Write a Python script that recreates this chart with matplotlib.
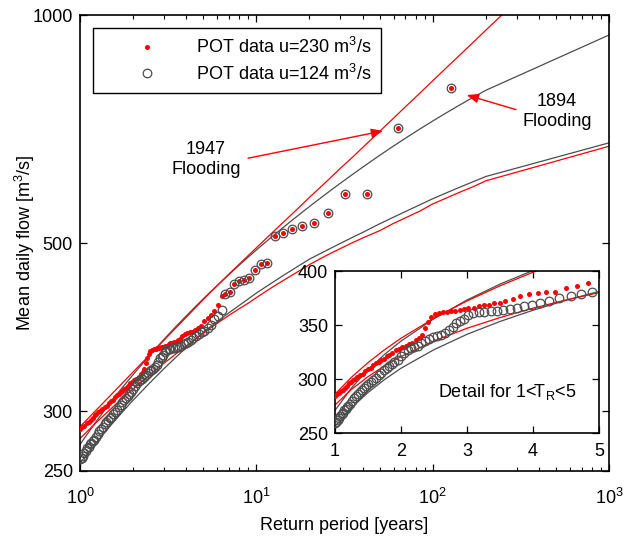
import matplotlib
matplotlib.use('Agg')
import matplotlib.pyplot as plt
from matplotlib.lines import Line2D
from matplotlib.ticker import FixedLocator, NullLocator, FixedFormatter

plt.rcParams['font.family'] = ['Liberation Sans', 'DejaVu Sans']
plt.rcParams['mathtext.fontset'] = 'custom'
plt.rcParams['mathtext.rm'] = 'Liberation Sans'
plt.rcParams['mathtext.it'] = 'Liberation Sans:italic'
plt.rcParams['mathtext.bf'] = 'Liberation Sans:bold'

# POT data u=230 m3/s : return period [years], flow [m3/s]
red_T = [1.00, 1.03, 1.06, 1.09, 1.12, 1.15, 1.18, 1.21, 1.24, 1.27, 1.30, 1.34, 1.38, 1.42,
         1.46, 1.50, 1.54, 1.58, 1.62, 1.66, 1.70, 1.74, 1.78, 1.82, 1.87, 1.92, 1.97, 2.02,
         2.07, 2.12, 2.17, 2.22, 2.27, 2.32, 2.36, 2.41, 2.46, 2.51, 2.57, 2.63, 2.69, 2.75,
         2.82, 2.89, 2.95, 3.02, 3.10, 3.18, 3.25, 3.33, 3.41, 3.50, 3.58, 3.70, 3.81, 3.94,
         4.07, 4.20, 4.34, 4.50, 4.66, 4.84, 5.08, 5.29, 5.52, 5.77, 6.05, 6.35, 6.68, 7.06,
         7.47, 7.94, 8.47, 9.07, 9.77, 10.6, 11.5, 12.7, 14.1, 15.9, 18.1, 21.2, 25.4, 31.8,
         42.3, 63.5, 127.0]
red_Q = [284, 286, 287, 289, 290, 292, 294, 296, 297, 299, 300, 302, 304, 305,
         307, 309, 310, 313, 315, 316, 318, 319, 321, 322, 324, 327, 328, 330,
         331, 332, 333, 336, 338, 341, 347, 353, 357, 360, 361, 362, 362, 363,
         363, 364, 365, 366, 366, 368, 369, 369, 370, 370, 372, 374, 377, 379,
         380, 381, 381, 384, 386, 389, 394, 398, 402, 407, 414, 425, 428, 431,
         442, 445, 447, 450, 461, 469, 470, 511, 515, 522, 526, 532, 547, 581,
         581, 710, 800]

# POT data u=124 m3/s
gray_T = [1.00, 1.02, 1.04, 1.06, 1.08, 1.10, 1.12, 1.14, 1.16, 1.18, 1.20, 1.23, 1.26, 1.29,
          1.32, 1.35, 1.38, 1.41, 1.44, 1.47, 1.50, 1.54, 1.58, 1.62, 1.66, 1.70, 1.74, 1.78,
          1.82, 1.86, 1.90, 1.95, 2.00, 2.05, 2.10, 2.15, 2.20, 2.25, 2.30, 2.36, 2.42, 2.48,
          2.54, 2.60, 2.66, 2.72, 2.78, 2.84, 2.90, 2.96, 3.02, 3.09, 3.18, 3.26, 3.36, 3.45,
          3.55, 3.65, 3.75, 3.87, 3.99, 4.10, 4.24, 4.39, 4.57, 4.73, 4.90, 5.08, 5.29, 5.52,
          5.77, 6.05, 6.35, 6.68, 7.06, 7.47, 7.94, 8.47, 9.07, 9.77, 10.6, 11.5, 12.7, 14.1,
          15.9, 18.1, 21.2, 25.4, 31.8, 42.3, 63.5, 127.0]
gray_Q = [259, 260, 262, 264, 266, 268, 269, 271, 272, 274, 275, 277, 280, 282,
          284, 286, 288, 290, 292, 294, 295, 297, 299, 301, 304, 306, 308, 310,
          312, 314, 316, 318, 321, 324, 327, 329, 330, 331, 333, 335, 337, 339,
          340, 341, 343, 345, 348, 352, 354, 356, 359, 361, 362, 362, 363, 363,
          364, 365, 366, 368, 369, 370, 372, 375, 377, 379, 381, 383, 386, 390,
          397, 401, 408, 428, 431, 442, 445, 447, 450, 461, 469, 470, 511, 515,
          522, 526, 532, 547, 581, 581, 710, 800]

# fitted bounds
curve_T = [1, 1.25, 1.5, 1.75, 2, 2.5, 3, 3.5, 4, 4.5, 5, 5.5, 6, 7, 8, 9, 10, 12, 14, 17,
           20, 25, 30, 35, 40, 50, 60, 70, 85, 100, 120, 140, 170, 200, 1000]
up_red = [286.0, 301.7, 315.2, 327.1, 337.8, 356.3, 372.3, 386.3, 398.9, 410.4, 421.0,
          430.6, 439.3, 455.0, 468.8, 481.3, 492.7, 513.1, 530.7, 553.8, 574.4, 602.7,
          627.8, 648.5, 668.1, 701.9, 730.8, 756.4, 789.5, 818.7, 852.5, 882.0, 920.7,
          954.7, 1364.6]
up_gray = [271.0, 291.7, 308.7, 322.8, 335.1, 355.9, 373.2, 387.9, 400.5, 411.8, 421.9,
           431.0, 439.4, 454.4, 467.5, 479.1, 489.5, 507.5, 522.8, 542.2, 558.6, 581.2,
           599.8, 615.6, 629.4, 652.6, 671.5, 687.5, 707.6, 724.4, 743.2, 759.0, 778.9,
           795.4, 941.0]
low_red = [276.0, 290.4, 302.2, 312.2, 320.8, 335.2, 347.0, 356.9, 365.6, 373.2, 380.0,
           386.2, 391.7, 401.4, 409.5, 416.4, 423.5, 435.4, 445.2, 457.5, 468.2, 481.5,
           491.7, 500.3, 507.6, 519.0, 530.7, 539.7, 551.3, 563.0, 573.5, 582.5, 593.5,
           604.0, 671.0]
low_gray = [256.0, 273.3, 287.5, 299.5, 310.0, 327.2, 341.4, 353.3, 363.7, 372.9, 381.1,
            387.7, 394.0, 404.5, 413.6, 421.8, 429.4, 441.5, 452.0, 465.0, 476.0, 488.9,
            499.5, 508.5, 516.2, 530.0, 540.9, 550.1, 561.9, 572.0, 582.5, 591.5, 602.5,
            612.0, 678.0]

RED = '#ff0000'
GRAY = '#4d4d4d'
FS = 13


def draw(ax):
    for c in [up_gray, low_gray]:
        ax.plot(curve_T, c, color=GRAY, lw=0.9, zorder=2)
    for c in [up_red, low_red]:
        ax.plot(curve_T, c, color=RED, lw=0.9, zorder=2)
    ax.plot(red_T, red_Q, 'o', color=RED, ms=3.6, mec='none', zorder=3)
    ax.plot(gray_T, gray_Q, 'o', mfc='none', mec=GRAY, mew=0.9, ms=6.2, zorder=4)
    for s in ax.spines.values():
        s.set_linewidth(1.2)


fig = plt.figure(figsize=(6.24, 5.44), dpi=100)
ax = fig.add_axes([0.1282, 0.1342, 0.8478, 0.8382])
draw(ax)
ax.set_xscale('log')
ax.set_yscale('log')
ax.set_xlim(1, 1000)
ax.set_ylim(250, 1000)
ax.yaxis.set_major_locator(FixedLocator([250, 300, 500, 1000]))
ax.yaxis.set_major_formatter(FixedFormatter(['250', '300', '500', '1000']))
ax.yaxis.set_minor_locator(NullLocator())
ax.tick_params(which='both', direction='in', top=True, right=True, labelsize=FS)
ax.tick_params(which='major', length=5, width=0.9)
ax.tick_params(which='minor', length=3, width=0.8)
ax.tick_params(axis='x', pad=12)
ax.tick_params(axis='y', pad=5)
ax.set_xlabel('Return period [years]', fontsize=FS, labelpad=7)
ax.set_ylabel('Mean daily flow [m$^3$/s]', fontsize=FS, labelpad=-3)

h_red = Line2D([], [], ls='none', marker='o', color=RED, ms=3.6, mec='none')
h_gray = Line2D([], [], ls='none', marker='o', mfc='none', mec=GRAY, mew=0.9, ms=6.2)
leg = ax.legend([h_red, h_gray], ['POT data u=230 m$^3$/s', 'POT data u=124 m$^3$/s'],
                loc='upper left', bbox_to_anchor=(0.0246, 0.9715), fontsize=FS,
                frameon=True, fancybox=False, framealpha=1, edgecolor='black',
                borderpad=0.5, handlelength=5.0, handletextpad=0.2, labelspacing=0.35,
                borderaxespad=0, numpoints=1)
leg.get_frame().set_linewidth(1.0)

arrow = dict(arrowstyle='-|>,head_length=0.7,head_width=0.28', color=RED, lw=1.0,
             mutation_scale=10, shrinkA=0, shrinkB=0)
ax.text(5.18, 645, '1947\nFlooding', ha='center', va='center', fontsize=FS, linespacing=1.25)
ax.annotate('', xy=(52.3, 703), xytext=(8.97, 647), arrowprops=arrow)
ax.text(507, 745, '1894\nFlooding', ha='center', va='center', fontsize=FS, linespacing=1.25)
ax.annotate('', xy=(156, 784), xytext=(297, 750), arrowprops=arrow)

# inset
axin = fig.add_axes([0.5369, 0.2040, 0.4231, 0.2978])
axin.set_facecolor('white')
draw(axin)
axin.set_xlim(1, 5)
axin.set_ylim(250, 400)
axin.set_xticks([1, 2, 3, 4, 5])
axin.set_yticks([250, 300, 350, 400])
axin.tick_params(direction='in', top=True, right=True, labelsize=FS, length=5, width=0.9)
axin.tick_params(axis='x', pad=7)
axin.tick_params(axis='y', pad=5)
axin.text(0.39, 0.253, 'Detail for 1<T$_\\mathregular{R}$<5', transform=axin.transAxes,
          ha='left', va='center', fontsize=FS)

fig.savefig('out.png', dpi=100)
